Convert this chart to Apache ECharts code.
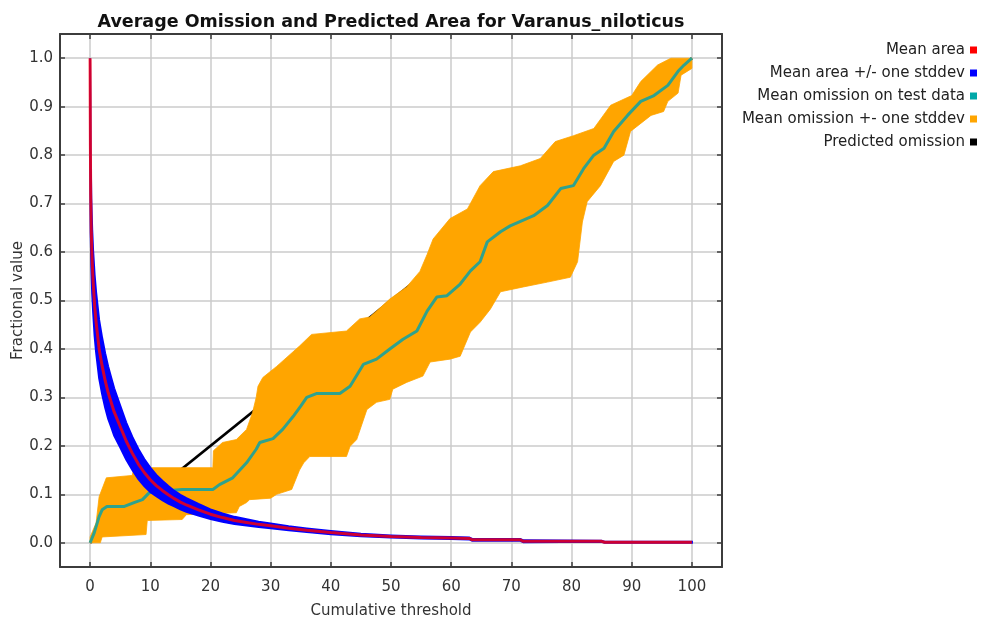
<!DOCTYPE html>
<html>
<head>
<meta charset="utf-8">
<script src="https://cdn.jsdelivr.net/npm/echarts@6/dist/echarts.min.js"></script>
<style>
  html, body { margin: 0; padding: 0; background: #ffffff; }
  #chart { width: 981px; height: 621px; }
</style>
</head>
<body>
<div id="chart"></div>
<script>
// Tick positions for both axes
const xTicks = [0, 10, 20, 30, 40, 50, 60, 70, 80, 90, 100];
const yTicks = [0.0, 0.1, 0.2, 0.3, 0.4, 0.5, 0.6, 0.7, 0.8, 0.9, 1.0];

// Mean fractional predicted area and its standard deviation
const areaT = [0, 0.05, 0.1, 0.2, 0.35, 0.5, 0.75, 1, 1.5, 2, 2.5, 3, 3.5, 4, 5, 6, 7, 8, 9, 10,
  11, 12, 13, 14, 15, 16, 18, 20, 22, 24, 26, 28, 30, 33, 36, 40, 45, 50, 55, 60,
  63, 63.5, 71.5, 72, 85, 85.5, 100];
const areaMean = [1.0, 0.82, 0.72, 0.64, 0.58, 0.54, 0.49, 0.455, 0.40, 0.365, 0.335, 0.31, 0.29, 0.27,
  0.24, 0.21, 0.185, 0.163, 0.145, 0.13, 0.118, 0.108, 0.099, 0.091, 0.084, 0.078,
  0.068, 0.059, 0.052, 0.046, 0.042, 0.038, 0.035, 0.030, 0.026, 0.021, 0.016, 0.013, 0.011, 0.010,
  0.009, 0.006, 0.006, 0.003, 0.003, 0.001, 0.001];
const areaSd = [0.18, 0.1, 0.08, 0.07, 0.066, 0.063, 0.063, 0.062, 0.06, 0.058, 0.056, 0.054, 0.051, 0.049,
  0.043, 0.038, 0.034, 0.031, 0.028, 0.025, 0.022, 0.02, 0.018, 0.016, 0.015, 0.014,
  0.012, 0.01, 0.0085, 0.0075, 0.0065, 0.0055, 0.005, 0.0042, 0.0036, 0.0032, 0.0027, 0.0022, 0.002, 0.002,
  0.002, 0.002, 0.002, 0.002, 0.001, 0.001, 0.001];

// Mean omission on test data
const omitT = [0, 0.67, 1.5, 2, 2.8, 5.7, 7.3, 8.7, 9.8, 11.2, 15.3, 20.4, 21.5, 23.7, 26,
  27.6, 28.2, 30.4, 32, 33.7, 35, 36, 37.6, 41.5, 43.2, 45.4, 47.6, 49.8, 52, 54.3,
  56, 57.6, 59.3, 61.5, 63.2, 64.8, 66, 68.2, 69.8, 73.7, 76, 78.2, 80.3, 82, 83.7,
  85.4, 87, 89.3, 91.5, 93.7, 96, 97.7, 98.7, 100];
const omitMean = [0, 0.02, 0.054, 0.068, 0.075, 0.075, 0.083, 0.089, 0.103, 0.106, 0.11, 0.11, 0.12, 0.134, 0.165,
  0.193, 0.207, 0.215, 0.234, 0.26, 0.282, 0.3, 0.308, 0.308, 0.323, 0.368, 0.379, 0.4, 0.42, 0.437,
  0.478, 0.507, 0.51, 0.534, 0.561, 0.58, 0.621, 0.642, 0.654, 0.675, 0.696, 0.731, 0.737, 0.772, 0.8,
  0.814, 0.849, 0.882, 0.911, 0.923, 0.944, 0.973, 0.986, 1.0];

// Mean omission + one stddev (upper edge of the band)
const omitUpperT = [0, 1.0, 1.5, 2.7, 7.0, 7.3, 20.4, 20.5, 22, 24.3, 26, 27, 27.6, 27.9, 28.7,
  31, 34.8, 36.8, 42.6, 44.8, 46.5, 49.8, 52.6, 54.8, 56, 57, 59.8, 62.7, 64.8, 67,
  71.5, 74.8, 77.3, 80.3, 83.7, 86.5, 90, 91.5, 94.3, 96.5, 100];
const omitUpperV = [0.012, 0.041, 0.095, 0.134, 0.139, 0.155, 0.155, 0.19, 0.207, 0.213, 0.234, 0.269, 0.3, 0.323, 0.341,
  0.364, 0.406, 0.43, 0.437, 0.462, 0.466, 0.503, 0.528, 0.56, 0.595, 0.627, 0.669, 0.689, 0.737, 0.766,
  0.778, 0.793, 0.828, 0.84, 0.855, 0.903, 0.923, 0.952, 0.986, 1.0, 1.0];

// Mean omission - one stddev (lower edge of the band)
const omitLowerT = [0, 1.7, 2.0, 9.3, 9.5, 15.3, 16, 24.3, 24.8, 26, 26.5, 30, 31, 33.5, 34.8,
  35.5, 36.5, 42.6, 43.2, 44.3, 46, 47.6, 49.8, 50.3, 52.6, 55.3, 56.5, 59.8, 61.5, 63.2,
  64.8, 66.5, 68.2, 72, 76, 79.8, 81, 81.8, 82.6, 84.8, 87, 88.7, 89.8, 93.2, 95.3,
  96, 97.7, 98.2, 100];
const omitLowerV = [0, 0, 0.012, 0.017, 0.046, 0.048, 0.058, 0.062, 0.075, 0.083, 0.089, 0.092, 0.1, 0.11, 0.15,
  0.165, 0.178, 0.178, 0.199, 0.213, 0.275, 0.29, 0.296, 0.317, 0.331, 0.344, 0.373, 0.379, 0.385, 0.435,
  0.455, 0.482, 0.518, 0.528, 0.538, 0.548, 0.58, 0.662, 0.704, 0.737, 0.787, 0.8, 0.849, 0.882, 0.89,
  0.911, 0.928, 0.965, 0.979];

// Predicted omission
const predT = [0, 100];
const predV = [0, 1];

const zip = (xs, ys) => xs.map((x, i) => [x, ys[i]]);

const areaLine = zip(areaT, areaMean);
const areaUpper = areaT.map((t, i) => [t, Math.min(1, areaMean[i] + areaSd[i])]);
const areaLower = areaT.map((t, i) => [t, Math.max(0, areaMean[i] - areaSd[i])]);
const omitLine = zip(omitT, omitMean);
const omitUpper = zip(omitUpperT, omitUpperV);
const omitLower = zip(omitLowerT, omitLowerV);
const predLine = zip(predT, predV);

const FONT = 'DejaVu Sans';
const FRAME = '#3c3c3c';
const GRIDLINE = '#cbcbcb';

// Filled band between two edges, placed through the cartesian coordinate system
function band(name, color, upper, lower, z, strokeWidth) {
  return {
    name: name,
    type: 'custom',
    z: z,
    silent: true,
    clip: true,
    itemStyle: { color: color },
    data: [[0, 0]],
    encode: { x: 0, y: 1 },
    renderItem: function (params, api) {
      const pts = upper.map(p => api.coord(p))
        .concat(lower.slice().reverse().map(p => api.coord(p)));
      return {
        type: 'polygon',
        shape: { points: pts },
        style: { fill: color, stroke: strokeWidth ? color : null, lineWidth: strokeWidth || 0 }
      };
    }
  };
}

const chart = echarts.init(document.getElementById('chart'), null, { renderer: 'canvas' });

const tickStyle = { color: FRAME, width: 1.5 };
const labelStyle = { fontFamily: FONT, fontSize: 15, color: '#333333' };

chart.setOption({
  animation: false,
  backgroundColor: '#ffffff',
  title: {
    text: 'Average Omission and Predicted Area for Varanus_niloticus',
    left: 391,
    textAlign: 'center',
    top: 13,
    padding: 0,
    textStyle: { fontFamily: FONT, fontSize: 17.5, fontWeight: 'bold', color: '#111111' }
  },
  legend: {
    orient: 'vertical',
    right: 4,
    top: 42,
    padding: 0,
    align: 'right',
    icon: 'rect',
    itemWidth: 7,
    itemHeight: 7,
    itemGap: 7,
    selectedMode: false,
    textStyle: { fontFamily: FONT, fontSize: 15, color: '#222222', lineHeight: 16 },
    data: ['Mean area', 'Mean area +/- one stddev', 'Mean omission on test data',
      'Mean omission +- one stddev', 'Predicted omission']
  },
  grid: { left: 60, right: 259, top: 34, bottom: 54, containLabel: false, outerBoundsMode: 'none' },
  xAxis: [
    {
      type: 'value', position: 'bottom', min: -5, max: 105,
      name: 'Cumulative threshold', nameLocation: 'middle', nameGap: 37, nameMoveOverlap: false,
      nameTextStyle: { fontFamily: FONT, fontSize: 15, color: '#333333' },
      axisLine: { show: true, onZero: false, lineStyle: { color: FRAME, width: 2 } },
      axisTick: { show: true, inside: true, length: 5, customValues: xTicks, lineStyle: tickStyle },
      axisLabel: Object.assign({ customValues: xTicks, margin: 13 }, labelStyle),
      splitLine: { show: true, lineStyle: { color: GRIDLINE, width: 1.5 } }
    },
    {
      type: 'value', position: 'top', min: -5, max: 105,
      axisLine: { show: true, onZero: false, lineStyle: { color: FRAME, width: 2 } },
      axisTick: { show: true, inside: true, length: 5, customValues: xTicks, lineStyle: tickStyle },
      axisLabel: { show: false },
      splitLine: { show: false }
    }
  ],
  yAxis: [
    {
      type: 'value', position: 'left', min: -0.05, max: 1.05,
      name: 'Fractional value', nameLocation: 'middle', nameGap: 34, nameMoveOverlap: false,
      nameTextStyle: { fontFamily: FONT, fontSize: 15, color: '#333333' },
      axisLine: { show: true, onZero: false, lineStyle: { color: FRAME, width: 2 } },
      axisTick: { show: true, inside: true, length: 5, customValues: yTicks, lineStyle: tickStyle },
      axisLabel: Object.assign({ customValues: yTicks, margin: 7, formatter: v => v.toFixed(1) }, labelStyle),
      splitLine: { show: true, lineStyle: { color: GRIDLINE, width: 1.5 } }
    },
    {
      type: 'value', position: 'right', min: -0.05, max: 1.05,
      axisLine: { show: true, onZero: false, lineStyle: { color: FRAME, width: 2 } },
      axisTick: { show: true, inside: true, length: 5, customValues: yTicks, lineStyle: tickStyle },
      axisLabel: { show: false },
      splitLine: { show: false }
    }
  ],
  series: [
    {
      name: 'Predicted omission', type: 'line', z: 2, data: predLine,
      showSymbol: false, symbol: 'none', silent: true,
      itemStyle: { color: '#000000' },
      lineStyle: { color: '#000000', width: 2.8 }
    },
    band('Mean omission +- one stddev', '#ffa500', omitUpper, omitLower, 3, 0.8),
    {
      name: 'Mean omission on test data', type: 'line', z: 4, data: omitLine,
      showSymbol: false, symbol: 'none', silent: true,
      itemStyle: { color: '#00a8a8' },
      lineStyle: { color: '#2fa28d', width: 3 }
    },
    band('Mean area +/- one stddev', '#0000ff', areaUpper, areaLower, 5, 2),
    {
      name: 'Mean area', type: 'line', z: 6, data: areaLine,
      showSymbol: false, symbol: 'none', silent: true,
      itemStyle: { color: '#ff0000' },
      lineStyle: { color: '#ff0000', width: 3, opacity: 0.8 }
    }
  ]
});
</script>
</body>
</html>
